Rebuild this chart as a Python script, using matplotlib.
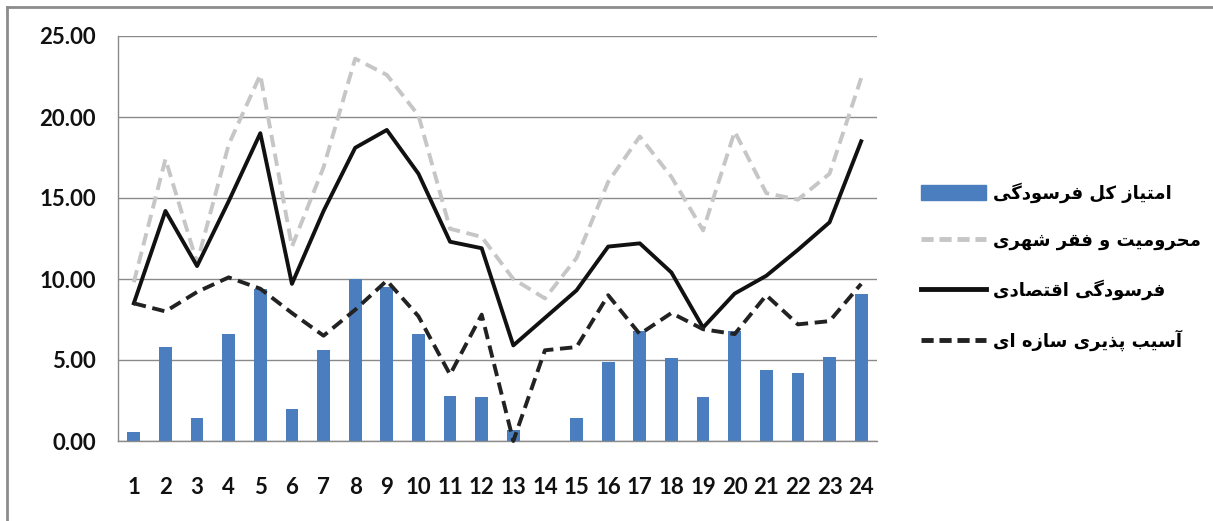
import matplotlib
matplotlib.use("Agg")
import matplotlib.pyplot as plt
from matplotlib.patches import Patch
from matplotlib.lines import Line2D

# ---------------- data ----------------
categories = [str(i) for i in range(1, 25)]
total_score = [0.55, 5.8, 1.4, 6.6, 9.4, 2.0, 5.6, 10.0, 9.5, 6.6, 2.8, 2.7,
               0.66, 0.0, 1.45, 4.9, 6.8, 5.1, 2.7, 6.8, 4.4, 4.2, 5.2, 9.1]
deprivation = [9.8, 17.4, 11.0, 18.3, 22.6, 12.0, 16.9, 23.6, 22.6, 20.1, 13.1, 12.6,
               10.0, 8.8, 11.3, 16.0, 18.8, 16.3, 13.0, 19.1, 15.3, 14.9, 16.5, 22.4]
economic = [8.5, 14.2, 10.8, 14.8, 19.0, 9.7, 14.2, 18.1, 19.2, 16.5, 12.3, 11.9,
            5.9, 7.6, 9.3, 12.0, 12.2, 10.4, 7.0, 9.1, 10.2, 11.8, 13.5, 18.5]
structural = [8.5, 8.0, 9.2, 10.1, 9.4, 7.9, 6.5, 8.1, 9.9, 7.7, 4.1, 7.8,
              0.0, 5.6, 5.8, 9.0, 6.6, 7.9, 6.9, 6.6, 9.0, 7.2, 7.4, 9.7]
series_labels = ["امتیاز کل فرسودگی", "محرومیت و فقر شهری",
                 "فرسودگی اقتصادی", "آسیب پذیری سازه ای"]
yticks = [0, 5, 10, 15, 20, 25]

# ---------------- simple Persian shaping (matplotlib has no CTL) ----------------
FORMS = {  # iso, fin, ini, med
    "\u0627": ("\uFE8D", "\uFE8E", None, None),
    "\u0622": ("\uFE81", "\uFE82", None, None),
    "\u0628": ("\uFE8F", "\uFE90", "\uFE91", "\uFE92"),
    "\u067E": ("\uFB56", "\uFB57", "\uFB58", "\uFB59"),
    "\u062A": ("\uFE95", "\uFE96", "\uFE97", "\uFE98"),
    "\u062D": ("\uFEA1", "\uFEA2", "\uFEA3", "\uFEA4"),
    "\u062F": ("\uFEA9", "\uFEAA", None, None),
    "\u0630": ("\uFEAB", "\uFEAC", None, None),
    "\u0631": ("\uFEAD", "\uFEAE", None, None),
    "\u0632": ("\uFEAF", "\uFEB0", None, None),
    "\u0633": ("\uFEB1", "\uFEB2", "\uFEB3", "\uFEB4"),
    "\u0634": ("\uFEB5", "\uFEB6", "\uFEB7", "\uFEB8"),
    "\u0635": ("\uFEB9", "\uFEBA", "\uFEBB", "\uFEBC"),
    "\u0641": ("\uFED1", "\uFED2", "\uFED3", "\uFED4"),
    "\u0642": ("\uFED5", "\uFED6", "\uFED7", "\uFED8"),
    "\u06A9": ("\uFB8E", "\uFB8F", "\uFB90", "\uFB91"),
    "\u06AF": ("\uFB92", "\uFB93", "\uFB94", "\uFB95"),
    "\u0644": ("\uFEDD", "\uFEDE", "\uFEDF", "\uFEE0"),
    "\u0645": ("\uFEE1", "\uFEE2", "\uFEE3", "\uFEE4"),
    "\u0647": ("\uFEE9", "\uFEEA", "\uFEEB", "\uFEEC"),
    "\u0648": ("\uFEED", "\uFEEE", None, None),
    "\u06CC": ("\uFBFC", "\uFBFD", "\uFBFE", "\uFBFF"),
}


def shape(text):
    out = []
    n = len(text)
    for i, ch in enumerate(text):
        if ch not in FORMS:
            out.append(ch)
            continue
        prev = text[i - 1] if i > 0 else None
        nxt = text[i + 1] if i < n - 1 else None
        join_prev = prev in FORMS and FORMS[prev][2] is not None
        join_next = nxt in FORMS and FORMS[ch][2] is not None
        iso, fin, ini, med = FORMS[ch]
        if join_prev and join_next:
            out.append(med)
        elif join_prev:
            out.append(fin)
        elif join_next:
            out.append(ini)
        else:
            out.append(iso)
    return "".join(out)[::-1]


# ---------------- figure ----------------
plt.rcParams["font.family"] = ["Lato", "DejaVu Sans"]
fig = plt.figure(figsize=(12.13, 5.21), dpi=100)
ax = fig.add_axes([118 / 1213, 1 - 441 / 521, (877 - 118) / 1213, (441 - 36) / 521])

x = list(range(len(categories)))
bar_c = "#4a7ebf"
ax.bar(x, total_score, width=0.4, color=bar_c, zorder=2)
ax.plot(x, deprivation, color="#c6c6c6", lw=2.8, ls=(0, (3.2, 1.7)), zorder=3)
ax.plot(x, economic, color="#111111", lw=2.8, ls="-", zorder=4)
ax.plot(x, structural, color="#222222", lw=2.8, ls=(0, (3.2, 1.7)), zorder=4,
        clip_on=False)

ax.set_xlim(-0.5, len(categories) - 0.5)
ax.set_ylim(0, 25)
ax.set_yticks(yticks)
ax.set_yticklabels([f"{v:.2f}" for v in yticks])
ax.set_xticks(x)
ax.set_xticklabels(categories)
ax.yaxis.grid(True, color="#8a8a8a", lw=1.0)
ax.set_axisbelow(True)
for s in ["top", "right"]:
    ax.spines[s].set_visible(False)
for s in ["left", "bottom"]:
    ax.spines[s].set_color("#8a8a8a")
    ax.spines[s].set_linewidth(1.0)
ax.tick_params(axis="both", length=0, labelsize=16, colors="#111111")
ax.tick_params(axis="y", pad=16)
ax.tick_params(axis="x", pad=26)
for t in ax.get_xticklabels() + ax.get_yticklabels():
    t.set_fontweight("bold")

handles = [
    Patch(facecolor=bar_c, edgecolor=bar_c),
    Line2D([], [], color="#c6c6c6", lw=3.5, ls=(0, (2.5, 1.2))),
    Line2D([], [], color="#111111", lw=3.5, ls="-"),
    Line2D([], [], color="#222222", lw=3.5, ls=(0, (2.5, 1.2))),
]
leg = fig.legend(handles, [shape(s) for s in series_labels],
                 loc="upper left", bbox_to_anchor=(905 / 1213, 1 - 166 / 521),
                 frameon=False, handlelength=3.6, handleheight=0.9,
                 labelspacing=1.62, handletextpad=0.4,
                 prop={"family": ["DejaVu Sans"], "weight": "bold", "size": 13})

# scanned frame: only left and top edges visible
fig.add_artist(Line2D([7 / 1213, 7 / 1213], [0, 1 - 7 / 521],
                      transform=fig.transFigure, color="#8c8c8c", lw=2.0))
fig.add_artist(Line2D([7 / 1213, 1], [1 - 7 / 521, 1 - 7 / 521],
                      transform=fig.transFigure, color="#8c8c8c", lw=2.0))

fig.savefig("out.png", dpi=100)
